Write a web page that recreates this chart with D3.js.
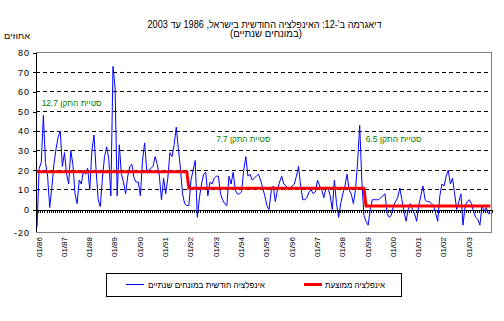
<!DOCTYPE html>
<html>
<head>
<meta charset="utf-8">
<script src="https://cdn.jsdelivr.net/npm/d3@7"></script>
<style>
  body { margin: 0; background: #fff; }
  svg { display: block; font-family: "Liberation Sans", Arial, "DejaVu Sans", sans-serif; }
  .rtl { direction: rtl; unicode-bidi: embed; }
</style>
</head>
<body>
<div id="chart"></div>
<script>
// 1: DATA
// monthly inflation, annualised, Jan 1986 .. Dec 2003
const inflation = [
    -9, 21, 24, 48, 24, 17, 1, 11, 23, 31, 37, 40,      // 1986
    22, 29, 18, 13, 30, 23, 8, 3, 15, 13, 20, 18,       // 1987
    21, 10, 30, 38, 20, 5, 1.5, 16, 27, 32, 26, 7,      // 1988
    73, 62, 7, 33, 18, 14, 8, 17, 22, 23, 16, 14,       // 1989
    14, 7, 25, 34, 20, 20, 21, 22, 27, 23, 17, 5,       // 1990
    16, 8, 16, 29, 27, 33, 42, 31, 21, 8, 3, 2,         // 1991
    2, 15, 20, 25, -4, 6, 13, 18, 19, 7, 14, 13,        // 1992
    16, 17, 17, 8, 5, 3, 2, 17, 13, 19, 10, 8,          // 1993
    8, 9, 20, 27, 17, 18, 15, 16, 17, 18, 15, 11,       // 1994
    7, 2, 0, 9, 12, 4, 10, 14, 17, 13, 12, 11,          // 1995
    11, 12, 13, 17, 22, 12, 5, 5, 6, 9, 10, 8,          // 1996
    9, 15, 12, 10, 6, 11, 11, 7, 0, 15, 3, -4,          // 1997
    3, 8, 12, 18, 10, 8, 3, 10, 24, 43, 15, -3,         // 1998
    -6, -8, 0, 5, 5, 5, 5, 6, 7, 8, -2, -4,             // 1999
    -3, 2, 4, 6, 11, 5, -1, -6, 0, 3, 0, -2,            // 2000
    -6, 2, 7, 12, 5, 4, 4, 3, 2, -2, -6, 7,             // 2001
    13, 12, 17, 20, 13, 16, 8, 0, 4, 8, -8, 2,          // 2002
    4, 5, 3, -1, -4, -5, -8, 2, -1, 1, -2, -2           // 2003
];

// x tick labels, one every 12 months
const xTickLabels = ["01/86", "01/87", "01/88", "01/89", "01/90", "01/91", "01/92", "01/93", "01/94",
    "01/95", "01/96", "01/97", "01/98", "01/99", "01/00", "01/01", "01/02", "01/03"];

// y tick values
const yTicks = [0, 10, 20, 30, 40, 50, 60, 70, 80];

// average inflation per period, and standard deviation of each period
const avgPeriodStart = ["01/86", "01/92", "01/99"];
const avgValues = [19.3, 10.8, 1.8];
const stdDevs = ["12.7", "7.7", "6.5"];

// texts
const titleLines = ["דיאגרמה ב'-12: האינפלציה החודשית בישראל, 1986 עד 2003", "(במונחים שנתיים)"];
const yUnit = "אחוזים";
const seriesNames = ["אינפלציה חודשית במונחים שנתיים", "אינפלציה ממוצעת"];

// average series: one value per month, stepping at period starts
const startIdx = avgPeriodStart.map(s => xTickLabels.indexOf(s) * 12);
const avgSeries = inflation.map((d, i) => avgValues[d3.bisectRight(startIdx, i) - 1]);

// 2: LAYOUT
const W = 504, H = 321;
const plot = { left: 36, right: 491.5, top: 52.7, bottom: 232 };

const svg = d3.select("#chart").append("svg")
    .attr("width", W)
    .attr("height", H);

// 3: SCALES
const xScale = d3.scaleLinear()
    .domain([0, inflation.length])
    .range([plot.left, plot.right]);
const yScale = d3.scaleLinear()
    .domain([0, 80])
    .range([209.5, plot.top]);
const xPt = i => xScale(i + 0.5);

svg.append("defs").append("clipPath").attr("id", "plotClip")
    .append("rect")
    .attr("x", plot.left).attr("y", plot.top)
    .attr("width", plot.right - plot.left).attr("height", plot.bottom - plot.top);

// 4: GRID + FRAME
svg.append("g")
    .selectAll("line")
    .data(yTicks.filter(d => d > 0 && d < 80))
    .enter()
    .append("line")
    .attr("x1", plot.left).attr("x2", plot.right)
    .attr("y1", d => yScale(d)).attr("y2", d => yScale(d))
    .attr("stroke", "#000")
    .attr("stroke-dasharray", "4,3")
    .attr("shape-rendering", "crispEdges");

svg.append("path")
    .attr("d", `M${plot.left},${plot.top}H${plot.right}V${plot.bottom}H${plot.left}`)
    .attr("fill", "none")
    .attr("stroke", "#808080")
    .attr("shape-rendering", "crispEdges");

// 5: AXES
// y axis
const yAxis = svg.append("g")
    .attr("transform", `translate(${plot.left},0)`)
    .call(d3.axisLeft(yScale).tickValues(yTicks).tickSize(3).tickPadding(3).tickSizeOuter(0));
yAxis.select(".domain").remove();
yAxis.selectAll(".tick line").attr("shape-rendering", "crispEdges");
yAxis.selectAll(".tick text")
    .style("font-size", "9px")
    .style("letter-spacing", "1px")
    .style("font-family", "'Liberation Sans', Arial, sans-serif");
svg.append("line")
    .attr("x1", plot.left).attr("x2", plot.left)
    .attr("y1", plot.top).attr("y2", plot.bottom)
    .attr("stroke", "#000")
    .attr("shape-rendering", "crispEdges");

// bottom label at the foot of the axis
svg.append("text")
    .attr("x", 30).attr("y", plot.bottom + 3.5)
    .attr("text-anchor", "end")
    .style("font-size", "9px").style("letter-spacing", "1px")
    .text("-20");

// x axis at zero: monthly comb
const xAxis = svg.append("g")
    .attr("transform", `translate(0,${yScale(0)})`)
    .call(d3.axisBottom(xScale)
        .tickValues(d3.range(0, inflation.length + 1))
        .tickSize(3)
        .tickSizeOuter(0)
        .tickFormat(""));
xAxis.select(".domain").attr("stroke", "#000").attr("shape-rendering", "crispEdges");
xAxis.selectAll(".tick line").attr("shape-rendering", "crispEdges");

// rotated year labels
svg.append("g")
    .selectAll("text")
    .data(xTickLabels)
    .enter()
    .append("text")
    .attr("transform", (d, i) => `translate(${xPt(i * 12) + 4.5},237) rotate(-90)`)
    .attr("text-anchor", "end")
    .style("font-size", "8px")
    .text(d => d);

// 6: LINES
const line = d3.line()
    .x((d, i) => xPt(i))
    .y(d => yScale(d));

const lines = svg.append("g").attr("clip-path", "url(#plotClip)");
lines.append("path")
    .datum(inflation)
    .attr("d", line)
    .attr("fill", "none")
    .attr("stroke", "#0000ff")
    .attr("stroke-width", 1);
lines.append("path")
    .datum(avgSeries)
    .attr("d", line)
    .attr("fill", "none")
    .attr("stroke", "#ff0000")
    .attr("stroke-width", 3);

// 7: ANNOTATIONS (standard deviation per period)
const notePos = [{ i: 16.4, v: 53 }, { i: 97.8, v: 34.5 }, { i: 169.1, v: 34.5 }];
svg.append("g")
    .selectAll("text")
    .data(stdDevs)
    .enter()
    .append("text")
    .attr("class", "rtl")
    .attr("x", (d, k) => xPt(notePos[k].i))
    .attr("y", (d, k) => yScale(notePos[k].v))
    .attr("text-anchor", "middle")
    .attr("fill", "#008000")
    .style("font-size", "9px")
    .attr("textLength", (d, k) => [60, 54, 56][k])
    .attr("lengthAdjust", "spacingAndGlyphs")
    .text(d => "סטיית התקן " + d);

// 8: TITLES
svg.append("text")
    .attr("class", "rtl")
    .attr("x", 264.5).attr("y", 27.5)
    .attr("text-anchor", "middle")
    .style("font-size", "10px")
    .attr("textLength", 234)
    .attr("lengthAdjust", "spacingAndGlyphs")
    .text(titleLines[0]);
svg.append("text")
    .attr("class", "rtl")
    .attr("x", 266).attr("y", 37)
    .attr("text-anchor", "middle")
    .style("font-size", "10px")
    .attr("textLength", 72)
    .attr("lengthAdjust", "spacingAndGlyphs")
    .text(titleLines[1]);
svg.append("text")
    .attr("class", "rtl")
    .attr("x", 17).attr("y", 38.5)
    .attr("text-anchor", "middle")
    .style("font-size", "8px")
    .attr("textLength", 26)
    .attr("lengthAdjust", "spacingAndGlyphs")
    .text(yUnit);

// 9: LEGEND
const legend = svg.append("g");
legend.append("rect")
    .attr("x", 106.5).attr("y", 273.5)
    .attr("width", 294.5).attr("height", 22.5)
    .attr("fill", "none")
    .attr("stroke", "#000")
    .attr("shape-rendering", "crispEdges");

const legendItems = [
    { name: seriesNames[0], color: "#0000ff", w: 1, x: 126, tx: 206.5, tl: 117 },
    { name: seriesNames[1], color: "#ff0000", w: 3, x: 304, tx: 355, tl: 60 }
];
const li = legend.selectAll(".legend")
    .data(legendItems)
    .enter()
    .append("g")
    .attr("class", "legend");
li.append("line")
    .attr("x1", d => d.x).attr("x2", d => d.x + 18)
    .attr("y1", 284.5).attr("y2", 284.5)
    .attr("stroke", d => d.color)
    .attr("stroke-width", d => d.w);
li.append("text")
    .attr("class", "rtl")
    .attr("x", d => d.tx).attr("y", 287.5)
    .attr("text-anchor", "middle")
    .style("font-size", "9px")
    .attr("textLength", d => d.tl)
    .attr("lengthAdjust", "spacingAndGlyphs")
    .text(d => d.name);
</script>
</body>
</html>
